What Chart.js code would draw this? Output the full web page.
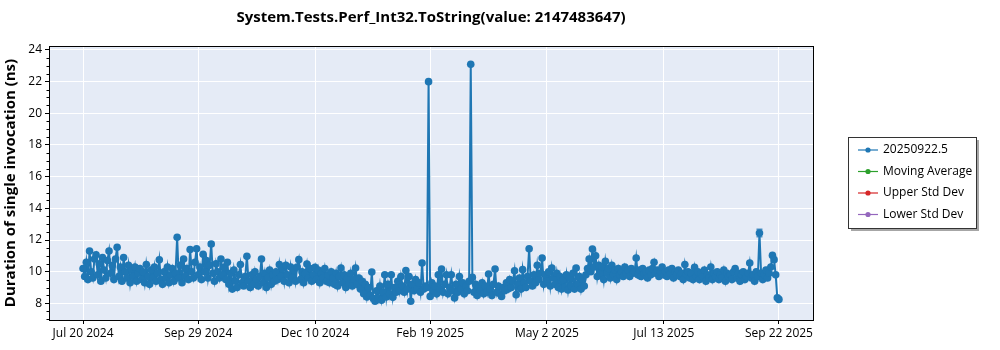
<!DOCTYPE html>
<html>
<head>
<meta charset="utf-8">
<script src="https://cdn.jsdelivr.net/npm/chart.js@4.4.1/dist/chart.umd.min.js"></script>
<style>
  html, body { margin: 0; padding: 0; background: #ffffff; }
  #wrap { width: 1000px; height: 350px; }
</style>
</head>
<body>
<div id="wrap"><canvas id="perfChart" width="1000" height="350"></canvas></div>
<script>
// chart text
const chartTitle = "System.Tests.Perf_Int32.ToString(value: 2147483647)";
const yAxisTitle = "Duration of single invocation (ns)";

// x axis: days counted from Jul 20 2024
const xTickDays = [0, 71, 143, 214, 286, 358, 429];
const xTickLabels = ["Jul 20 2024", "Sep 29 2024", "Dec 10 2024", "Feb 19 2025", "May 2 2025", "Jul 13 2025", "Sep 22 2025"];
const yTicks = [8, 10, 12, 14, 16, 18, 20, 22, 24];

// duration per day (ns), day 0 = Jul 20 2024
const durations = [
    10.2, 9.7, 10.6, 9.5, 11.3, 10.0, 9.6, 10.8, 11.07, 9.8,
    10.5, 9.4, 10.9, 10.1, 9.6, 10.7, 11.3, 9.9, 10.4, 9.5,
    10.8, 11.54, 9.7, 10.3, 9.4, 10.9, 10.0, 9.6, 10.4, 9.3,
    10.1, 9.7, 10.3, 9.4, 9.9, 10.2, 9.5, 10.0, 9.3, 10.45,
    9.7, 9.2, 10.1, 9.6, 10.3, 9.4, 9.9, 10.75, 9.5, 9.2,
    10.0, 9.6, 10.3, 9.3, 9.8, 10.2, 9.4, 9.9, 12.17, 9.6,
    10.4, 9.3, 10.8, 9.7, 10.2, 9.5, 11.4, 10.0, 9.6, 10.6,
    11.45, 9.8, 10.3, 9.5, 11.1, 10.0, 10.7, 9.6, 10.4, 11.75,
    9.9, 9.4, 10.5, 10.0, 9.6, 10.8, 9.8, 10.3, 9.5, 10.6,
    9.2, 9.9, 8.9, 10.1, 9.4, 9.0, 9.8, 10.45, 9.3, 9.1,
    9.7, 10.97, 9.4, 9.0, 9.8, 9.2, 10.0, 9.5, 9.1, 9.7,
    10.8, 9.3, 9.9, 9.0, 9.6, 10.1, 9.2, 9.8, 9.4, 10.0,
    9.5, 10.45, 9.7, 10.2, 9.4, 10.4, 9.8, 9.3, 10.3, 9.6,
    10.1, 9.4, 10.3, 10.76, 9.5, 10.0, 9.3, 9.9, 10.48, 9.6,
    10.2, 9.4, 9.8, 10.27, 9.5, 10.1, 9.3, 9.9, 9.6, 10.2,
    9.4, 9.8, 9.3, 10.0, 9.6, 9.2, 9.9, 9.1, 9.7, 10.23,
    9.3, 9.8, 9.0, 9.6, 9.2, 9.9, 9.1, 9.5, 10.23, 9.2,
    9.6, 8.9, 9.4, 8.6, 9.2, 8.4, 9.0, 8.5, 9.98, 8.3,
    8.13, 8.8, 8.3, 9.1, 8.2, 8.7, 9.8, 8.4, 9.2, 8.6,
    9.8, 8.38, 9.0, 8.7, 9.4, 8.8, 9.7, 9.1, 8.7, 10.08,
    8.9, 9.7, 8.13, 9.2, 8.8, 9.5, 8.9, 9.3, 8.7, 10.55,
    8.9, 9.1, 9.0, 22.0, 8.44, 9.3, 8.8, 9.1, 8.6, 9.8,
    8.9, 10.17, 8.7, 9.2, 9.8, 8.6, 9.0, 9.8, 8.8, 8.34,
    9.2, 8.7, 9.7, 8.9, 9.3, 8.6, 9.1, 8.8, 9.4, 23.1,
    9.64, 8.7, 9.2, 8.5, 9.0, 8.8, 9.3, 8.6, 9.1, 8.7,
    9.85, 8.9, 8.5, 9.2, 10.17, 8.7, 9.1, 8.6, 8.44, 9.0,
    8.8, 9.3, 8.9, 9.5, 9.0, 9.4, 10.06, 8.55, 9.2, 9.6,
    8.9, 10.13, 9.3, 9.0, 9.7, 11.45, 9.4, 9.1, 9.8, 9.3,
    10.4, 9.5, 9.9, 10.86, 9.2, 9.8, 9.4, 10.0, 9.1, 10.23,
    9.6, 9.2, 9.9, 9.0, 9.7, 8.9, 9.5, 9.0, 9.8, 8.85,
    9.6, 9.1, 9.9, 8.9, 10.23, 9.2, 9.7, 8.9, 9.5, 9.1,
    9.8, 10.2, 10.8, 10.0, 11.43, 10.3, 11.0, 9.7, 10.4, 9.8,
    10.3, 9.5, 10.65, 9.9, 10.2, 9.6, 10.4, 9.8, 10.1, 9.5,
    10.2, 9.8, 10.0, 9.7, 10.3, 9.9, 10.1, 9.7, 10.2, 9.9,
    10.0, 10.86, 9.8, 10.1, 9.7, 10.2, 9.9, 10.0, 9.6, 10.1,
    9.8, 10.2, 10.6, 9.9, 10.1, 9.7, 10.0, 10.3, 9.8, 10.0,
    9.7, 10.1, 9.9, 10.2, 9.6, 10.0, 9.8, 10.1, 9.7, 9.9,
    9.5, 10.45, 9.8, 10.0, 9.6, 9.9, 9.5, 10.27, 9.7, 10.0,
    9.5, 9.9, 9.7, 10.1, 9.4, 9.8, 9.6, 10.3, 9.5, 9.9,
    9.7, 10.0, 9.5, 9.8, 9.6, 10.1, 9.4, 9.9, 9.7, 9.8,
    9.5, 10.0, 10.2, 9.6, 9.9, 9.4, 9.8, 10.0, 9.5, 9.7,
    9.9, 10.55, 9.6, 9.8, 9.4, 10.0, 9.7, 12.44, 9.9, 9.5,
    9.8, 10.1, 9.6, 9.9, 10.3, 11.03, 10.76, 9.8, 8.35, 8.25
];

// visible error bars (day index and half-height in ns)
const errorDays = [79, 417];
const errorSizes = [0.12, 0.24];

// legend
const legendLabels = ["20250922.5", "Moving Average", "Upper Std Dev", "Lower Std Dev"];
const legendColors = ["#1f77b4", "#2ca02c", "#d62728", "#9467bd"];

const FONT = "'Segoe UI', 'Open Sans', sans-serif";
const BLUE = "#1f77b4";

const framePlugin = {
    id: "frame",
    beforeDraw(chart) {
        const { ctx, chartArea: a } = chart;
        ctx.save();
        ctx.fillStyle = "#e5ebf6";
        ctx.fillRect(a.left, a.top, a.right - a.left, a.bottom - a.top);
        ctx.restore();
    },
    afterDatasetsDraw(chart) {
        const { ctx } = chart;
        const meta = chart.getDatasetMeta(0);
        const yScale = chart.scales.y;
        ctx.save();
        ctx.strokeStyle = "rgba(31,119,180,0.75)";
        ctx.lineWidth = 1.5;
        errorDays.forEach((d, i) => {
            const pt = meta.data[d];
            const v = durations[d];
            const y1 = yScale.getPixelForValue(v + errorSizes[i]);
            const y2 = yScale.getPixelForValue(v - errorSizes[i]);
            ctx.beginPath();
            ctx.moveTo(pt.x, y1); ctx.lineTo(pt.x, y2);
            ctx.moveTo(pt.x - 3, y1); ctx.lineTo(pt.x + 3, y1);
            ctx.moveTo(pt.x - 3, y2); ctx.lineTo(pt.x + 3, y2);
            ctx.stroke();
        });
        ctx.restore();
    },
    afterDraw(chart) {
        const { ctx, chartArea: a } = chart;
        const yScale = chart.scales.y;
        ctx.save();
        // axes frame
        ctx.strokeStyle = "#000";
        ctx.lineWidth = 1;
        ctx.strokeRect(Math.round(a.left) + 0.5, Math.round(a.top) + 0.5,
            Math.round(a.right - a.left), Math.round(a.bottom - a.top));
        // minor ticks on y
        ctx.beginPath();
        for (let v = 7; v <= 24; v += 0.5) {
            if (yTicks.includes(v)) continue;
            const y = Math.round(yScale.getPixelForValue(v)) + 0.5;
            ctx.moveTo(a.left - 2.5, y);
            ctx.lineTo(a.left, y);
        }
        ctx.stroke();

        // title
        ctx.fillStyle = "#000";
        ctx.font = "bold 15px " + FONT;
        ctx.textAlign = "center";
        ctx.textBaseline = "middle";
        ctx.fillText(chartTitle, (a.left + a.right) / 2, 18);

        // legend box
        const lx = 848, ly = 137, lw = 128, lh = 91;
        ctx.fillStyle = "rgba(0,0,0,0.35)";
        ctx.fillRect(lx + 3, ly + 3, lw, lh);
        ctx.fillStyle = "#fff";
        ctx.fillRect(lx, ly, lw, lh);
        ctx.strokeStyle = "#333";
        ctx.strokeRect(lx + 0.5, ly + 0.5, lw, lh);
        ctx.font = "12px " + FONT;
        ctx.textAlign = "left";
        legendLabels.forEach((label, i) => {
            const y = ly + 13 + i * 21.5;
            ctx.strokeStyle = legendColors[i];
            ctx.lineWidth = 1.2;
            ctx.beginPath();
            ctx.moveTo(lx + 10, y); ctx.lineTo(lx + 30, y);
            ctx.stroke();
            ctx.fillStyle = legendColors[i];
            ctx.beginPath();
            ctx.arc(lx + 20, y, 2.6, 0, Math.PI * 2);
            ctx.fill();
            ctx.fillStyle = "#000";
            ctx.fillText(label, lx + 35, y);
        });
        ctx.restore();
    }
};

const chart = new Chart(document.getElementById("perfChart").getContext("2d"), {
    type: "line",
    data: {
        datasets: [{
            label: legendLabels[0],
            data: durations.map((v, i) => ({ x: i, y: v })),
            borderColor: BLUE,
            borderWidth: 2,
            pointRadius: 3.8,
            pointBackgroundColor: BLUE,
            pointBorderWidth: 0,
            tension: 0,
            fill: false
        }]
    },
    options: {
        responsive: false,
        animation: false,
        devicePixelRatio: 1,
        layout: { padding: { left: 0, right: 187, top: 46, bottom: 0 } },
        plugins: { legend: { display: false }, tooltip: { enabled: false } },
        scales: {
            x: {
                type: "linear",
                min: -21,
                max: 450,
                afterBuildTicks: (s) => { s.ticks = xTickDays.map(v => ({ value: v })); },
                afterFit: (s) => { s.height = 30; },
                ticks: {
                    color: "#000",
                    font: { family: FONT, size: 12 },
                    padding: 2,
                    maxRotation: 0,
                    autoSkip: false,
                    callback: (v) => xTickLabels[xTickDays.indexOf(v)]
                },
                grid: { color: "#ffffff", lineWidth: 1, tickColor: "#000", tickLength: 4 },
                border: { display: true, color: "#000" }
            },
            y: {
                min: 6.95,
                max: 24.25,
                afterBuildTicks: (s) => { s.ticks = yTicks.map(v => ({ value: v })); },
                afterFit: (s) => { s.width = 49; },
                ticks: {
                    color: "#000",
                    font: { family: FONT, size: 12 },
                    padding: 3
                },
                title: {
                    display: true,
                    text: yAxisTitle,
                    color: "#000",
                    font: { family: FONT, size: 15, weight: "bold" },
                    padding: { top: 2, bottom: 0 }
                },
                grid: { color: "#ffffff", lineWidth: 1, tickColor: "#000", tickLength: 4 },
                border: { display: true, color: "#000" }
            }
        }
    },
    plugins: [framePlugin]
});
</script>
</body>
</html>
